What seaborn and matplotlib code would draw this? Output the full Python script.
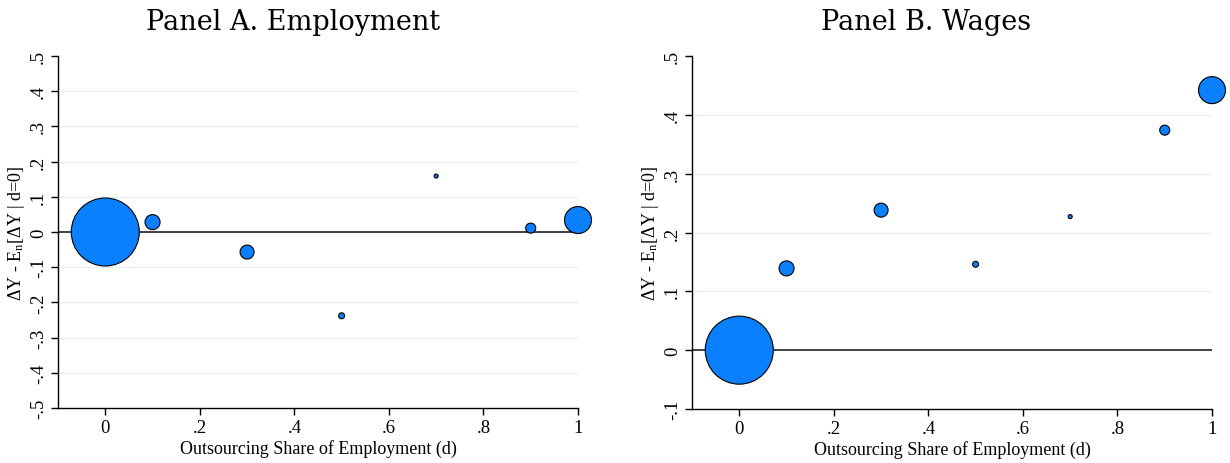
import matplotlib
matplotlib.use("Agg")
import matplotlib.pyplot as plt
import seaborn as sns
import pandas as pd

# ---- data ----
share = [0.0, 0.1, 0.3, 0.5, 0.7, 0.9, 1.0]          # outsourcing share of employment (d)
weight = [0.780, 0.038, 0.033, 0.006, 0.0027, 0.017, 0.123]  # bubble weights
emp_resid = [0.0, 0.028, -0.057, -0.238, 0.159, 0.011, 0.034]
wage_resid = [0.0, 0.139, 0.238, 0.146, 0.227, 0.374, 0.442]

titles = ["Panel A. Employment", "Panel B. Wages"]
xticks = [0, 0.2, 0.4, 0.6, 0.8, 1.0]
xticklabels = ["0", ".2", ".4", ".6", ".8", "1"]
yticks_a = [-0.5, -0.4, -0.3, -0.2, -0.1, 0, 0.1, 0.2, 0.3, 0.4, 0.5]
yticklabels_a = ["-.5", "-.4", "-.3", "-.2", "-.1", "0", ".1", ".2", ".3", ".4", ".5"]
yticks_b = [-0.1, 0, 0.1, 0.2, 0.3, 0.4, 0.5]
yticklabels_b = ["-.1", "0", ".1", ".2", ".3", ".4", ".5"]

sns.set_theme(style="white")
plt.rcParams["font.family"] = ["Liberation Serif", "DejaVu Serif"]
plt.rcParams["mathtext.fontset"] = "custom"
plt.rcParams["mathtext.rm"] = "Liberation Serif"
plt.rcParams["mathtext.it"] = "Liberation Serif:italic"
plt.rcParams["text.color"] = "black"
plt.rcParams["axes.labelcolor"] = "black"
plt.rcParams["xtick.color"] = "black"
plt.rcParams["ytick.color"] = "black"

fig = plt.figure(figsize=(12.3, 4.64), dpi=100)
W, H = 1230, 464
ax_a = fig.add_axes([58 / W, 55 / H, 520 / W, 352 / H])
ax_b = fig.add_axes([692 / W, 54 / H, 520 / W, 353 / H])

FILL = "#0A80FF"
smax = 2397.0
wmax = max(weight)

panels = [
    (ax_a, emp_resid, (-0.5, 0.5), yticks_a, yticklabels_a),
    (ax_b, wage_resid, (-0.1, 0.5), yticks_b, yticklabels_b),
]

for ax, yvals, ylim, yt, ytl in panels:
    df = pd.DataFrame({"d": share, "y": yvals, "w": weight})
    ax.axhline(0, color="#333333", lw=1.3, zorder=2)
    sns.scatterplot(data=df, x="d", y="y", size="w", sizes=(0, smax),
                    size_norm=(0, wmax), color=FILL, edgecolor="black",
                    linewidth=0.8, legend=False, ax=ax, zorder=3, clip_on=False)
    ax.set_xlim(-0.1, 1.0)
    ax.set_ylim(*ylim)
    ax.set_xticks(xticks)
    ax.set_xticklabels(xticklabels)
    ax.set_yticks(yt)
    ax.set_yticklabels(ytl, rotation=90, va="center")
    ax.tick_params(axis="both", which="both", direction="out", length=5,
                   width=1, color="black", labelcolor="black", labelsize=13.5,
                   pad=3, bottom=True, left=True)
    ax.grid(axis="y", color="#E8F0F2", lw=1, zorder=0)
    ax.grid(axis="x", visible=False)
    ticks = ax.yaxis.get_major_ticks()
    ticks[0].gridline.set_visible(False)
    ticks[-1].gridline.set_visible(False)
    for s in ["top", "right"]:
        ax.spines[s].set_visible(False)
    for s in ["left", "bottom"]:
        ax.spines[s].set_color("black")
        ax.spines[s].set_linewidth(1)
    ax.set_xlabel("Outsourcing Share of Employment (d)", fontsize=13, labelpad=2)
    ax.set_ylabel(r"ΔY - E$_{\mathrm{n}}$[ΔY | d=0]", fontsize=13, labelpad=2)
    ax.set_facecolor("white")

fig.text(293 / W, 1 - 23 / H, titles[0], ha="center", va="center",
         fontsize=19.5, family=["DejaVu Serif"], color="black")
fig.text(926 / W, 1 - 23 / H, titles[1], ha="center", va="center",
         fontsize=19.5, family=["DejaVu Serif"], color="black")

fig.savefig("out.png", dpi=100, facecolor="white")
